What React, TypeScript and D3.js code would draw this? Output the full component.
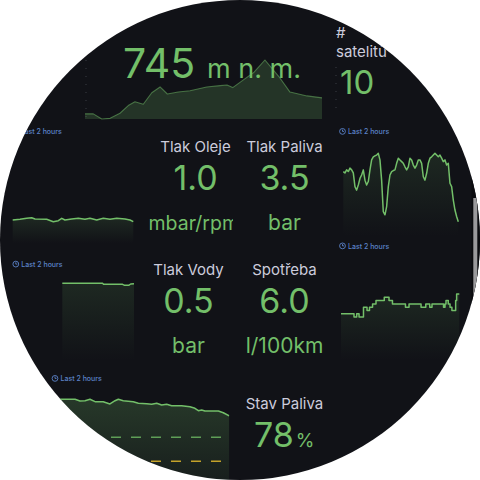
import React from 'react';
import * as d3 from 'd3';

const W = 480;
const H = 480;
const BG = '#111217';
const GREEN = '#73BF69';
const TEXT = '#ccccdc';
const LINK = '#5c83c9';
const FONT = "Inter, 'Noto Sans', sans-serif";

// Nadmořská výška (m n. m.), minutes within the last 2 hours
const altitudeMinutes = [0, 4.2, 8.5, 12.7, 17.7, 21.9, 25.3, 29.5, 33.8, 38, 41.7, 47.2, 53.2, 61.6, 68.4, 71.9, 74.8, 80.2, 85.6, 91.1, 98.7, 103.8, 112.4, 120];
const altitudeValues = [720, 720, 712, 713, 721, 733, 739, 735, 753, 762, 751, 754, 756, 762, 764, 765, 761, 773, 785, 804, 776, 754, 748, 745];

// Tlak oleje (mbar/rpm)
const oilMinutes = [0, 7.3, 13.9, 18.9, 22.2, 33.8, 40.4, 45.4, 48.8, 52, 58.7, 65.3, 71.9, 76.9, 83.6, 90.1, 96.8, 103.5, 111.7, 116.7, 120];
const oilValues = [1.047, 1.08, 1.125, 1.152, 1.093, 1.079, 0.97, 1.015, 1.125, 1.047, 1.093, 1.125, 1.079, 1.125, 1.047, 1.125, 1.079, 1.125, 1.093, 1.047, 0.97];

// Tlak vody (bar)
const waterMinutes = [48.9, 88.8, 89.8, 108.7, 110.7, 114.7, 116.7, 120];
const waterValues = [0.505, 0.505, 0.498, 0.498, 0.491, 0.491, 0.5, 0.502];

// Tlak paliva (bar), evenly spaced samples
const fuelPressureValues = [
  4.96, 4.92, 5.01, 4.96, 5.06, 5.01, 4.92, 4.52, 4.42, 4.57,
  4.76, 4.86, 5.01, 4.71, 4.57, 4.67, 5.01, 5.3, 5.39, 5.42,
  5.44, 5.49, 5.3, 4.71, 3.79, 3.7, 3.94, 4.52, 4.86, 4.96,
  4.99, 5.01, 5.2, 5.35, 5.3, 5.25, 5.2, 5.1, 5.01, 5.1,
  5.35, 5.3, 5.15, 5.06, 5.15, 5.3, 5.3, 5.2, 4.81, 4.71,
  4.91, 5.2, 5.35, 5.39, 5.44, 5.49, 5.44, 5.39, 5.44, 5.35,
  5.25, 5.3, 5.15, 5.2, 4.62, 4.52, 4.13, 3.84, 3.65, 3.5,
];

// Spotřeba (l/100km), step changes
const consumptionMinutes = [0, 13.2, 15.9, 18.3, 22.8, 26.4, 28.9, 32, 35.5, 43.9, 48.7, 52.2, 65.4, 69, 81.2, 86, 90, 92.3, 104, 105.5, 106.5, 108.8, 110.6, 112.5, 116.3, 117.3, 120];
const consumptionValues = [5.4, 5.3, 5.4, 5.3, 5.6, 5.5, 5.6, 5.7, 5.8, 5.9, 5.8, 5.7, 5.6, 5.7, 5.6, 5.7, 5.6, 5.7, 5.6, 5.7, 5.8, 5.7, 5.6, 5.5, 5.8, 6.0, 6.0];

// Stav paliva (%)
const fuelMinutes = [0, 15, 35.2, 37.9, 40.7, 43.4, 46.2, 50.7, 54.4, 57.2, 59, 61.7, 67.2, 70, 74.6, 77.3, 80.1, 82.8, 85.6, 88.3, 93.8, 98.4, 101.1, 103, 104.8, 106.6, 114, 116.7, 120];
const fuelValues = [91.6, 91.6, 91.6, 90.2, 90.4, 91.6, 89.6, 89.6, 87.7, 90.4, 91.6, 90.4, 89.6, 88.3, 87.9, 87.4, 88.3, 86.8, 87.4, 86.25, 86.25, 85.4, 84.1, 82.1, 82.7, 81.8, 81.8, 80.4, 77.7];
const fuelThresholds = [
  { value: 60, color: '#5f9e57' },
  { value: 40, color: '#c4a22a' },
];

type Pt = [number, number];
const zip = (xs: number[], ys: number[]): Pt[] => xs.map((x, i) => [x, ys[i]]);

function Spark({
  pts, x, y, base, fill, fillOpacity = 1, stroke, strokeOpacity = 1, strokeWidth = 1.5, curve = d3.curveLinear,
}: {
  pts: Pt[]; x: d3.ScaleLinear<number, number>; y: d3.ScaleLinear<number, number>; base: number;
  fill: string; fillOpacity?: number; stroke: string; strokeOpacity?: number; strokeWidth?: number; curve?: d3.CurveFactory;
}) {
  const line = d3.line<Pt>().x((d) => x(d[0])).y((d) => y(d[1])).curve(curve);
  const area = d3.area<Pt>().x((d) => x(d[0])).y0(base).y1((d) => y(d[1])).curve(curve);
  return (
    <g>
      <path d={area(pts) || ''} fill={fill} fillOpacity={fillOpacity} />
      <path d={line(pts) || ''} fill="none" stroke={stroke} strokeOpacity={strokeOpacity} strokeWidth={strokeWidth} strokeLinejoin="round" />
    </g>
  );
}

function TimeRange({ x, y }: { x: number; y: number }) {
  const cy = y - 2.6;
  return (
    <g>
      <g stroke={LINK} fill="none" strokeWidth={0.9}>
        <circle cx={x} cy={cy} r={2.9} />
        <path d={`M${x},${cy - 1.8}V${cy}H${x + 1.5}`} />
      </g>
      <text x={x + 5.5} y={y} fontSize={7} fontWeight={500} fill={LINK}>Last 2 hours</text>
    </g>
  );
}

function Stat({ cx, label, value, unit, top }: { cx: number; label: string; value: string; unit?: string; top: number }) {
  return (
    <g textAnchor="middle">
      <text x={cx} y={top} fontSize={15} fill={TEXT}>{label}</text>
      <text x={cx} y={top + 38} fontSize={34} fill={GREEN}>{value}</text>
      {unit && <text x={cx} y={top + 77.5} fontSize={21} fill={GREEN}>{unit}</text>}
    </g>
  );
}

export default function App() {
  const minutes = [0, 120];

  const altX = d3.scaleLinear().domain(minutes).range([85, 322]);
  const altY = d3.scaleLinear().domain([712, 804]).range([119, 60]);

  const oilX = d3.scaleLinear().domain(minutes).range([12.7, 133.3]);
  const oilY = d3.scaleLinear().domain([0, 1]).range([243, 221.04]);

  const waterX = d3.scaleLinear().domain(minutes).range([13, 134]);
  const waterY = d3.scaleLinear().domain([0, 1]).range([360, 208]);

  const fpX = d3.scaleLinear().domain([0, fuelPressureValues.length - 1]).range([343.3, 458.3]);
  const fpY = d3.scaleLinear().domain([3.2, 4.2]).range([232, 197.67]);

  const conX = d3.scaleLinear().domain(minutes).range([341, 459.3]);
  const conY = d3.scaleLinear().domain([4, 6]).range([360, 294]);

  const fuelX = d3.scaleLinear().domain(minutes).range([11, 229.3]);
  const fuelY = d3.scaleLinear().domain([0, 100]).range([509.2, 389.2]);

  return (
    <div style={{ position: 'absolute', left: 0, top: 0 }}>
      <svg width={W} height={H} viewBox={`0 0 ${W} ${H}`} style={{ display: 'block', background: '#ffffff' }} fontFamily={FONT}>
        <defs>
          <clipPath id="dial">
            <circle cx={W / 2} cy={H / 2} r={240} />
          </clipPath>
          <clipPath id="oilPanel">
            <rect x={140} y={200} width={93} height={50} />
          </clipPath>
          <clipPath id="fuelPlot">
            <rect x={fuelX.range()[0]} y={385} width={fuelX.range()[1] - fuelX.range()[0]} height={100} />
          </clipPath>
          <linearGradient id="sparkFill" x1="0" y1="0" x2="0" y2="1">
            <stop offset="0" stopColor={GREEN} stopOpacity={0.13} />
            <stop offset="1" stopColor={GREEN} stopOpacity={0} />
          </linearGradient>
          <linearGradient id="fuelFill" x1="0" y1="0" x2="0" y2="1">
            <stop offset="0" stopColor={GREEN} stopOpacity={0.22} />
            <stop offset="1" stopColor={GREEN} stopOpacity={0.02} />
          </linearGradient>
        </defs>

        <g clipPath="url(#dial)">
          <rect width={W} height={H} fill={BG} />

          {/* scrollbar */}
          <rect x={471.5} y={0} width={9} height={H} fill="#0b0c0f" />
          <rect x={473.3} y={198} width={4} height={150} fill="#9a9a9c" />

          {/* panel edges */}
          <line x1={86} x2={86} y1={60} y2={118} stroke="#3a3d45" strokeDasharray="1 7" />
          <line x1={336} x2={336} y1={67} y2={112} stroke="#3a3d45" strokeDasharray="1 7" />

          {/* altitude */}
          <Spark pts={zip(altitudeMinutes, altitudeValues)} x={altX} y={altY} base={119}
            fill={GREEN} fillOpacity={0.2} stroke={GREEN} strokeOpacity={0.5} strokeWidth={1.1} />
          <text x={123} y={78} fontSize={41} fill={GREEN}>{altitudeValues[altitudeValues.length - 1]}</text>
          <text x={207} y={78} fontSize={27} fill={GREEN}>m n. m.</text>

          {/* satellites */}
          <text x={336} y={38} fontSize={15} fill={TEXT}>#</text>
          <text x={336} y={56.5} fontSize={15} fill={TEXT}>satelitů</text>
          <text x={340} y={93.5} fontSize={33} fill={GREEN}>10</text>

          <TimeRange x={15} y={134} />
          <TimeRange x={342.5} y={134} />
          <TimeRange x={342.5} y={248.5} />
          <TimeRange x={15.8} y={266.7} />
          <TimeRange x={55} y={381} />

          {/* oil pressure */}
          <Spark pts={zip(oilMinutes, oilValues)} x={oilX} y={oilY} base={243} fill="url(#sparkFill)" stroke={GREEN} />
          <Stat cx={195.5} top={152} label="Tlak Oleje" value="1.0" />
          <g clipPath="url(#oilPanel)">
            <text x={148.5} y={229.5} fontSize={19.5} fill={GREEN}>mbar/rpm</text>
          </g>

          {/* fuel pressure */}
          <Stat cx={284.5} top={152} label="Tlak Paliva" value="3.5" unit="bar" />
          <Spark pts={fuelPressureValues.map((v, i) => [i, v] as Pt)} x={fpX} y={fpY} base={236} fill="url(#sparkFill)" stroke={GREEN} />

          {/* water pressure */}
          <Spark pts={zip(waterMinutes, waterValues)} x={waterX} y={waterY} base={360} fill="url(#sparkFill)" stroke={GREEN} />
          <Stat cx={188.5} top={275} label="Tlak Vody" value="0.5" unit="bar" />

          {/* consumption */}
          <Stat cx={284.5} top={275} label="Spotřeba" value="6.0" unit="l/100km" />
          <Spark pts={zip(consumptionMinutes, consumptionValues)} x={conX} y={conY} base={360}
            fill="url(#sparkFill)" stroke={GREEN} curve={d3.curveStepAfter} />

          {/* fuel level time series */}
          <g clipPath="url(#fuelPlot)">
            <Spark pts={zip(fuelMinutes, fuelValues)} x={fuelX} y={fuelY} base={fuelY(0)} fill="url(#fuelFill)" stroke={GREEN} />
            {fuelThresholds.map((t) => (
              <line key={t.value} x1={fuelX.range()[0]} x2={fuelX.range()[1]} y1={fuelY(t.value)} y2={fuelY(t.value)}
                stroke={t.color} strokeWidth={1.5} strokeDasharray="10 10" />
            ))}
          </g>

          <text x={284.5} y={408.5} fontSize={15} fill={TEXT} textAnchor="middle">Stav Paliva</text>
          <text x={254} y={447} fill={GREEN}>
            <tspan fontSize={34}>78</tspan>
            <tspan fontSize={19} dx={2}>%</tspan>
          </text>
        </g>
      </svg>
    </div>
  );
}
